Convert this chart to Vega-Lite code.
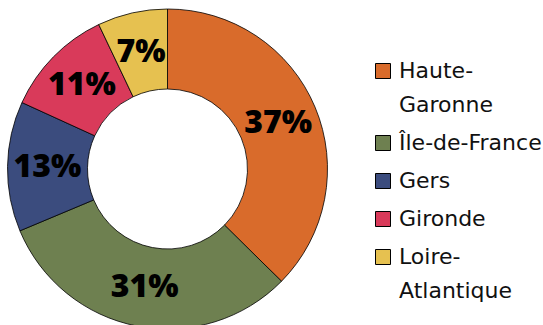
{
  "$schema": "https://vega.github.io/schema/vega-lite/v6.json",
  "width": 335,
  "height": 338,
  "padding": {"left": 0, "top": 0, "right": 208, "bottom": 0},
  "autosize": "none",
  "background": "white",
  "data": {
    "values": [
      {"region": "Haute-Garonne", "value": 37, "rank": 1},
      {"region": "Île-de-France", "value": 31, "rank": 2},
      {"region": "Gers", "value": 13, "rank": 3},
      {"region": "Gironde", "value": 11, "rank": 4},
      {"region": "Loire-Atlantique", "value": 7, "rank": 5}
    ]
  },
  "transform": [{"calculate": "datum.value + '%'", "as": "label"}],
  "encoding": {
    "theta": {"field": "value", "type": "quantitative", "stack": true},
    "order": {"field": "rank", "type": "quantitative"}
  },
  "layer": [
    {
      "mark": {"type": "arc", "outerRadius": 160, "innerRadius": 80, "stroke": "black", "strokeWidth": 0.8},
      "encoding": {
        "color": {
          "field": "region",
          "type": "nominal",
          "sort": ["Haute-Garonne", "Île-de-France", "Gers", "Gironde", "Loire-Atlantique"],
          "scale": {
            "domain": ["Haute-Garonne", "Île-de-France", "Gers", "Gironde", "Loire-Atlantique"],
            "range": ["#D96B2B", "#6E8050", "#3B4C7E", "#D93A5A", "#E6C150"]
          },
          "legend": {
            "title": null,
            "orient": "none",
            "legendX": 372,
            "legendY": 60,
            "padding": 0,
            "symbolType": "square",
            "symbolSize": 225,
            "symbolStrokeColor": "black",
            "symbolStrokeWidth": 1,
            "labelFont": "DejaVu Sans",
            "labelFontSize": 22,
            "labelColor": "#111111",
            "labelLimit": 300,
            "labelOffset": 5,
            "rowPadding": 16,
            "labelExpr": "datum.label == 'Haute-Garonne' ? ['Haute-', 'Garonne'] : datum.label == 'Loire-Atlantique' ? ['Loire-', 'Atlantique'] : datum.label",
            "encode": {"labels": {"update": {"lineHeight": {"value": 34}}}}
          }
        }
      }
    },
    {
      "mark": {"type": "text", "radius": 120, "font": "Noto Sans", "fontWeight": 900, "fontSize": 32, "color": "black", "baseline": "middle", "align": "center"},
      "encoding": {
        "text": {"field": "label", "type": "nominal"}
      }
    }
  ]
}
